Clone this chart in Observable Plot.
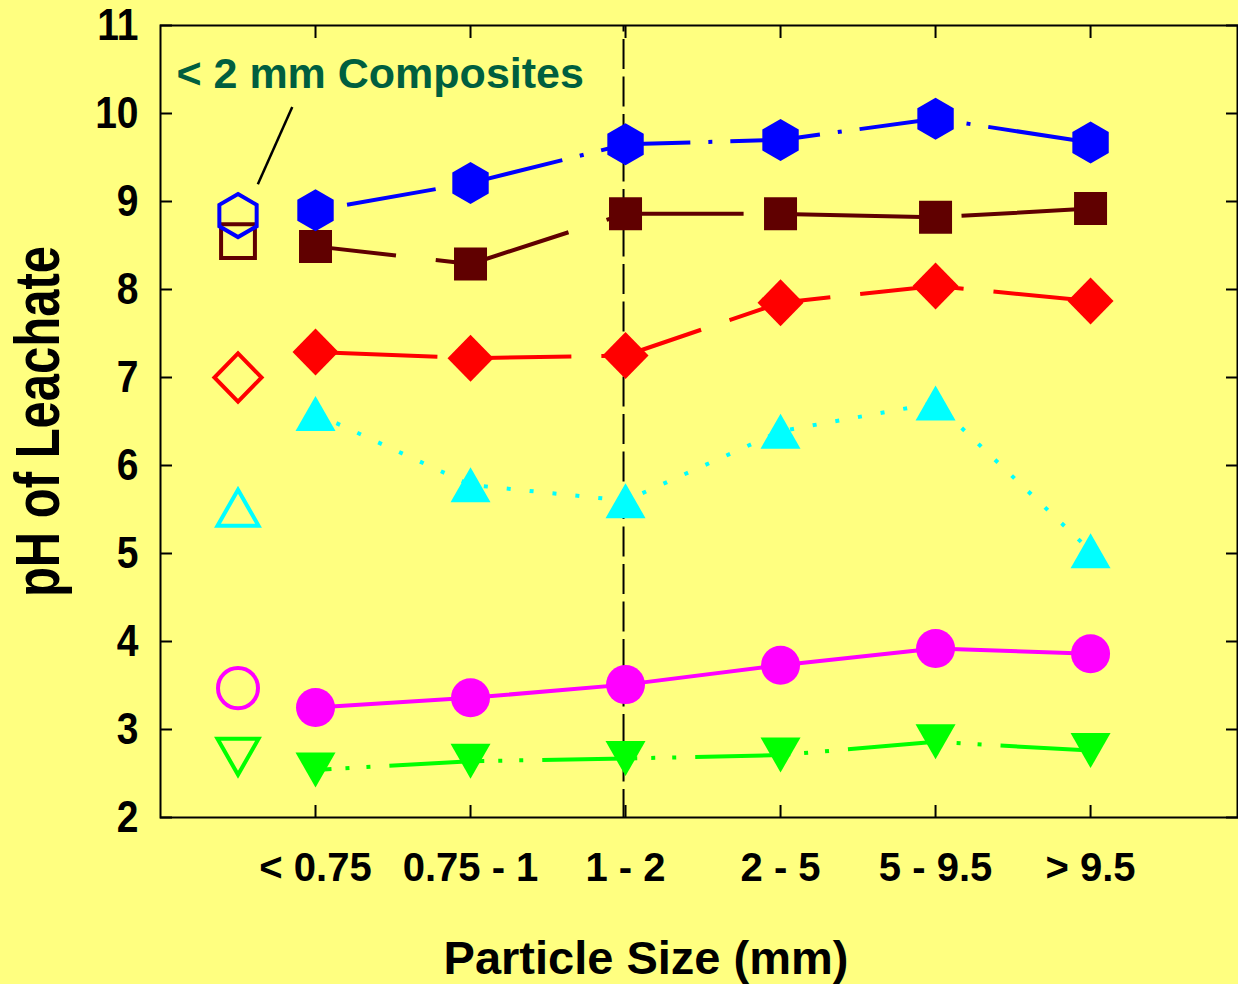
<!DOCTYPE html>
<html>
<head>
<meta charset="utf-8">
<script src="https://cdn.jsdelivr.net/npm/d3@7"></script>
<script src="https://cdn.jsdelivr.net/npm/@observablehq/plot@0.6"></script>
<style>
  html, body { margin: 0; padding: 0; background: #FFFF80; }
  svg { display: block; }
</style>
</head>
<body>
<script>
// ---- data ----
const categories = ["< 0.75", "0.75 - 1", "1 - 2", "2 - 5", "5 - 9.5", "> 9.5"];
const yTicks = [2, 3, 4, 5, 6, 7, 8, 9, 10, 11];
const hexagonBlue      = [8.90, 9.21, 9.65, 9.70, 9.94, 9.67];
const squareBrown      = [8.49, 8.29, 8.86, 8.86, 8.82, 8.92];
const diamondRed       = [7.29, 7.22, 7.25, 7.85, 8.04, 7.87];
const triangleCyan     = [6.59, 5.78, 5.60, 6.39, 6.71, 5.03];
const circleMagenta    = [3.25, 3.36, 3.51, 3.73, 3.92, 3.86];
const triangleDownGreen= [2.54, 2.64, 2.67, 2.71, 2.86, 2.76];
// "< 2 mm Composites" values (open symbols), same series keys
const compositeValues  = {blue: 8.84, brown: 8.55, red: 7.00, cyan: 5.52, magenta: 3.47, green: 2.69};
const compositePosition = 0.5;           // half a category step left of "< 0.75"
const dividerCategory = "1 - 2";
const annotationText = "< 2 mm Composites";
const yTitle = "pH of Leachate";
const xTitle = "Particle Size (mm)";

// ---- symbols ----
function shape(points) {
  return {draw(ctx, size) {
    const k = Math.sqrt(size / Math.PI) / 20;
    points.forEach(([px, py], i) => i ? ctx.lineTo(px * k, py * k) : ctx.moveTo(px * k, py * k));
    ctx.closePath();
  }};
}
const hexagon = shape([[0,-21],[18.2,-10.5],[18.2,10.5],[0,21],[-18.2,10.5],[-18.2,-10.5]]);
const square = shape([[-16.5,-16.5],[16.5,-16.5],[16.5,16.5],[-16.5,16.5]]);
const diamond = shape([[0,-23.5],[23,0],[0,23.5],[-23,0]]);
const triUp = shape([[0,-17.5],[20,17.5],[-20,17.5]]);
const triDown = shape([[0,17.5],[20,-17.5],[-20,-17.5]]);
const circle = {draw(ctx, size) {
  const r = Math.sqrt(size / Math.PI) * 19.5 / 20;
  ctx.moveTo(r, 0); ctx.arc(0, 0, r, 0, 2 * Math.PI); ctx.closePath();
}};

// series drawn bottom-to-top
const series = [
  {key: "green",   values: triangleDownGreen, color: "#00FF00", symbol: triDown, dash: "95,14,4,17,4,19", offset: 79},
  {key: "magenta", values: circleMagenta,     color: "#FF00FF", symbol: circle,  dash: null, offset: 0},
  {key: "cyan",    values: triangleCyan,      color: "#00FFFF", symbol: triUp,   dash: "4,19", offset: 0},
  {key: "red",     values: diamondRed,        color: "#FF0000", symbol: diamond, dash: "104,30", offset: 116},
  {key: "brown",   values: squareBrown,       color: "#600000", symbol: square,  dash: "138,40", offset: 57},
  {key: "blue",    values: hexagonBlue,       color: "#0000FF", symbol: hexagon, dash: "90,18,4,18", offset: 98}
];

const xTickPos = categories.map((c, i) => i + 1);
const marks = [];

marks.push(Plot.frame({stroke: "black", strokeWidth: 2}));
marks.push(Plot.ruleX([categories.indexOf(dividerCategory) + 1], {stroke: "black", strokeWidth: 2, strokeDasharray: "30,7.5", strokeDashoffset: 23.5, dx: -2}));

// ticks pointing inward on all four sides
marks.push(Plot.axisY({anchor: "left", ticks: yTicks, tickSize: -12, text: null, strokeWidth: 2, label: null}));
marks.push(Plot.axisY({anchor: "right", ticks: yTicks, tickSize: -12, text: null, strokeWidth: 2, label: null}));
marks.push(Plot.axisX({anchor: "bottom", ticks: xTickPos, tickSize: -12, text: null, strokeWidth: 2, label: null}));
marks.push(Plot.axisX({anchor: "top", ticks: xTickPos, tickSize: -12, text: null, strokeWidth: 2, label: null}));
// tick labels
marks.push(Plot.axisY({anchor: "left", ticks: yTicks, tickSize: 0, tickPadding: 22, fontSize: 39, fontWeight: "bold", fill: "black", label: null, tickFormat: d => String(d), className: "ylabels"}));
marks.push(Plot.axisX({anchor: "bottom", ticks: xTickPos, tickSize: 0, tickPadding: 35, fontSize: 40, fontWeight: "bold", fill: "black", label: null, tickFormat: i => categories[i - 1]}));

for (const s of series) {
  const rows = s.values.map((v, i) => ({x: i + 1, y: v}));
  const lineOpts = {x: "x", y: "y", stroke: s.color, strokeWidth: 4, strokeLinecap: "butt", strokeLinejoin: "miter"};
  if (s.dash) { lineOpts.strokeDasharray = s.dash; lineOpts.strokeDashoffset = s.offset; }
  marks.push(Plot.line(rows, lineOpts));
}
for (const s of series) {
  const rows = s.values.map((v, i) => ({x: i + 1, y: v}));
  marks.push(Plot.dot(rows, {x: "x", y: "y", symbol: s.symbol, r: 20, fill: s.color, stroke: "none"}));
  marks.push(Plot.dot([{x: compositePosition, y: compositeValues[s.key]}], {x: "x", y: "y", symbol: s.symbol, r: 20.5, fill: "none", stroke: s.color, strokeWidth: 4}));
}

// annotation
marks.push(Plot.text([annotationText], {x: 0.103, y: 10.29, text: d => d, textAnchor: "start", lineAnchor: "bottom", fontSize: 43, fontWeight: "bold", fill: "#005F3F"}));
marks.push(Plot.link([{x1: 0.850, y1: 10.075, x2: 0.628, y2: 9.197}], {x1: "x1", y1: "y1", x2: "x2", y2: "y2", stroke: "black", strokeWidth: 2.5}));

// axis titles
marks.push(Plot.text([yTitle], {frameAnchor: "left", textAnchor: "middle", dx: -122, rotate: -90, fontSize: 49, fontWeight: "bold", fill: "black", className: "ytitle"}));
marks.push(Plot.text([xTitle], {frameAnchor: "bottom", textAnchor: "middle", dx: -53, dy: 156, lineAnchor: "bottom", fontSize: 47, fontWeight: "bold", fill: "black"}));

const chart = Plot.plot({
  width: 1238,
  height: 984,
  marginLeft: 160,
  marginRight: 1,
  marginTop: 25,
  marginBottom: 167,
  x: {domain: [0, 6.948]},
  y: {domain: [2, 11]},
  style: {background: "#FFFF80", fontFamily: "'Liberation Sans', Arial, sans-serif", overflow: "visible"},
  marks
});

// stretch glyphs vertically (in their own frame) to match the tall lettering of the original
function stretch(sel, k) {
  sel.each(function() {
    const t = d3.select(this);
    let tr = t.attr("transform");
    if (!tr) {
      const x = +t.attr("x") || 0, y = +t.attr("y") || 0;
      t.attr("x", null).attr("y", null);
      tr = `translate(${x},${y})`;
    }
    t.attr("transform", tr + ` scale(1,${k})`);
  });
}
stretch(d3.select(chart).selectAll(".ylabels text"), 1.14);
stretch(d3.select(chart).selectAll(".ytitle text"), 1.28);

document.body.appendChild(chart);
</script>
</body>
</html>
